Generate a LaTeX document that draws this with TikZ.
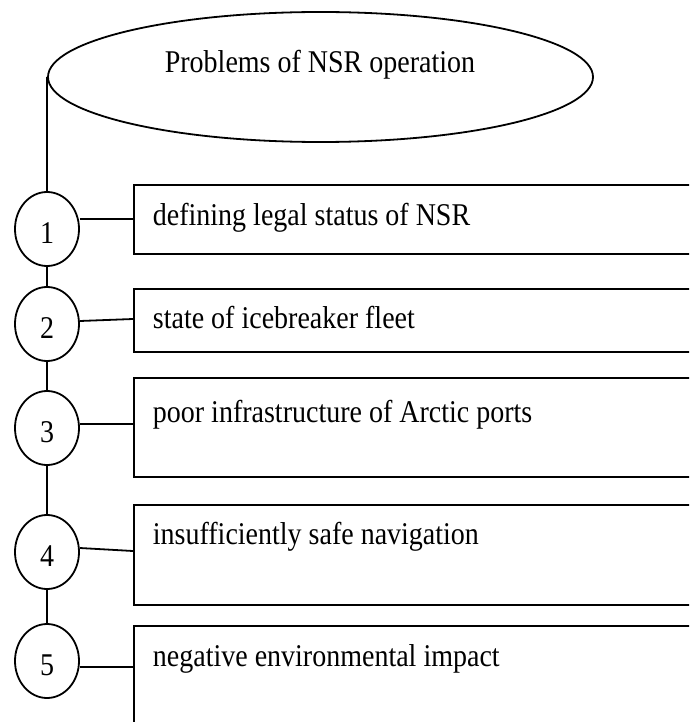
\documentclass[tikz,border=0pt]{standalone}
\usepackage{fontspec}
\usepackage{graphicx}
\setmainfont{Liberation Serif}
\usetikzlibrary{shapes.geometric}
\newcommand{\tallt}[1]{\scalebox{1}[1.13]{#1}}
\begin{document}
\begin{tikzpicture}[x=1pt,y=-1pt,line width=1.8pt,
  every node/.style={font=\fontsize{28}{32}\selectfont},
  numcirc/.style={draw, ellipse, minimum width=64pt, minimum height=74pt, inner sep=0pt, text height=29pt, text depth=0pt},
  itembox/.style={draw, rectangle, anchor=north west, inner sep=0pt, minimum width=557pt},
  itemtext/.style={anchor=base west, inner sep=0pt},
  topoval/.style={draw, ellipse, minimum width=545pt, minimum height=130pt, inner sep=0pt},
  link/.style={line width=1.8pt}]
\clip (0,0) rectangle (689,722);
\fill[white] (0,0) rectangle (689,722);
% title ellipse
\node[topoval] (top) at (320.5,77) {};
\node[anchor=base, inner sep=0pt] (title) at (320,73) {\tallt{Problems of NSR operation}};
% boxes
\node[itembox, minimum height=69pt] (b1) at (133,184) {};
\node[itembox, minimum height=63pt] (b2) at (133,288) {};
\node[itembox, minimum height=99pt] (b3) at (133,377) {};
\node[itembox, minimum height=100pt] (b4) at (133,504) {};
\node[itembox, minimum height=140pt] (b5) at (133,625) {};
% box texts
\node[itemtext] (t1) at (152,225) {\tallt{defining legal status of NSR}};
\node[itemtext] (t2) at (152,328) {\tallt{state of icebreaker fleet}};
\node[itemtext] (t3) at (152,422) {\tallt{poor infrastructure of Arctic ports}};
\node[itemtext] (t4) at (152,544) {\tallt{insufficiently safe navigation}};
\node[itemtext] (t5) at (152,666) {\tallt{negative environmental impact}};
% numbered circles
\node[numcirc] (c1) at (47,229) {\tallt{1}};
\node[numcirc] (c2) at (47,324) {\tallt{2}};
\node[numcirc] (c3) at (47,428) {\tallt{3}};
\node[numcirc] (c4) at (47,552) {\tallt{4}};
\node[numcirc] (c5) at (47,661) {\tallt{5}};
% trunk
\draw[link] (top.west) -- (c1.north);
\draw[link] (c1.south) -- (c2.north);
\draw[link] (c2.south) -- (c3.north);
\draw[link] (c3.south) -- (c4.north);
\draw[link] (c4.south) -- (c5.north);
% connectors
\coordinate (k1) at (133,219);
\coordinate (k2) at (133,319);
\coordinate (k3) at (133,424);
\coordinate (k4) at (133,551);
\coordinate (k5) at (133,667);
\coordinate (s2) at (0,321);
\coordinate (s4) at (0,548);
\draw[link] (c1.east |- k1) -- (k1);
\draw[link] (c2.east |- s2) -- (k2);
\draw[link] (c3.east |- k3) -- (k3);
\draw[link] (c4.east |- s4) -- (k4);
\draw[link] (c5.east |- k5) -- (k5);
\end{tikzpicture}
\end{document}
